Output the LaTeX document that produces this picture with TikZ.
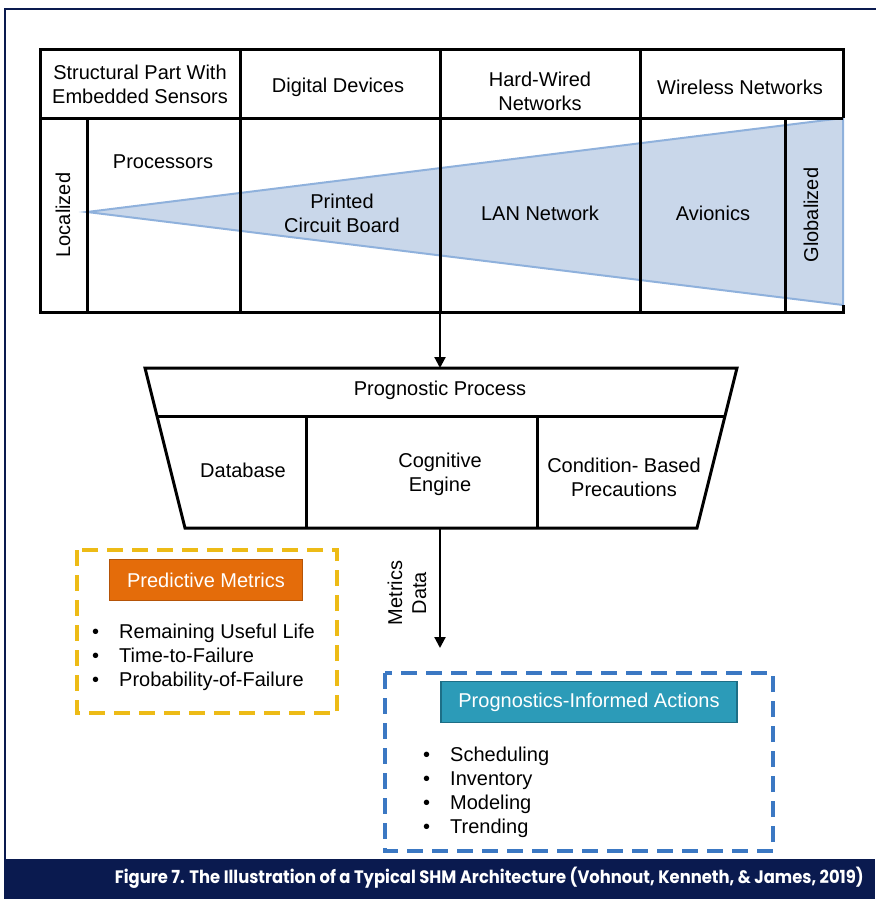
\documentclass[tikz,border=0pt]{standalone}
\usepackage{fontspec}
\setmainfont{Liberation Sans}
\newfontfamily\capfont{Poppins}
\usetikzlibrary{arrows.meta}
\definecolor{navy}{HTML}{0A1A4F}
\definecolor{wedge}{HTML}{C9D7EA}
\definecolor{wedgeline}{HTML}{8FB1DC}
\definecolor{metricsorange}{HTML}{E46C0A}
\definecolor{metricsedge}{HTML}{B55408}
\definecolor{metricsgold}{HTML}{EDBB16}
\definecolor{actionsteal}{HTML}{2C9BB8}
\definecolor{actionsedge}{HTML}{1D6E86}
\definecolor{actionsblue}{HTML}{3B78C3}
\begin{document}
\begin{tikzpicture}[x=1pt,y=-1pt,
  lbl/.style={font=\fontsize{20}{24}\selectfont, align=center, inner sep=0pt},
  grid/.style={line width=3pt},
  flow/.style={line width=2.2pt, -{Triangle[length=11pt,width=11pt]}},
  tagbox/.style={draw, line width=1.5pt, text=white, minimum height=41pt, inner sep=0pt,
    font=\fontsize{20}{24}\selectfont},
  dashbox/.style={line width=3.5pt, dash pattern=on 16pt off 9pt}]
  \useasboundingbox (0,0) rectangle (875,899);
  \draw [navy, line width=2pt] (5,860) -- (5,9) -- (877,9);
  \fill [navy] (4,859) rectangle (875,899);
  \fill [wedge] (87,212) -- (843,118) -- (843,305) -- cycle;
  \draw [wedgeline, line width=2pt] (843,305) -- (87,212) -- (843,118) -- (843,305);
  \draw [grid] (843,305) -- (843,312) -- (40,312) -- (40,50) -- (843,50) -- (843,118);
  \draw [grid] (40,118) -- (843,118);
  \foreach \x in {240,440,640} \draw [grid] (\x,50) -- (\x,312);
  \foreach \x in {87,785} \draw [grid] (\x,118) -- (\x,312);
  \node [lbl] (structural) at (140,84) {Structural Part With\\Embedded Sensors};
  \node [lbl] (digital) at (338,87) {Digital Devices};
  \node [lbl] (hardwired) at (540,91) {Hard-Wired\\Networks};
  \node [lbl] (wireless) at (740,87) {Wireless Networks};
  \node [lbl] (processors) at (163,162) {Processors};
  \node [lbl, rotate=90] (localized) at (63,215) {Localized};
  \node [lbl] (pcb) at (342,213) {Printed\\Circuit Board};
  \node [lbl] (lan) at (540,213) {LAN Network};
  \node [lbl] (avionics) at (713,213) {Avionics};
  \node [lbl, rotate=90] (globalized) at (811,215) {Globalized};
  \coordinate (tablebase) at (440,312);
  \coordinate (processtop) at (440,368);
  \draw [flow] (tablebase) -- (processtop);
  \draw [grid] (145,368) -- (737,368) -- (697,528) -- (185,528) -- cycle;
  \draw [grid] (157,416) -- (725,416);
  \draw [grid] (306,416) -- (306,528);
  \draw [grid] (537,416) -- (537,528);
  \node [lbl] (process) at (440,390) {Prognostic Process};
  \node [lbl] (database) at (243,470) {Database};
  \node [lbl] (cognitive) at (440,474) {Cognitive\\Engine};
  \node [lbl] (condition) at (624,477) {Condition- Based\\Precautions};
  \coordinate (processbase) at (440,528);
  \coordinate (metricsend) at (440,648);
  \draw [flow] (processbase) -- (metricsend);
  \node [lbl, rotate=90] (metricsdata) at (407,593) {Metrics\\Data};
  \draw [dashbox, metricsgold] (77,550) rectangle (337,713);
  \node [tagbox, fill=metricsorange, draw=metricsedge, minimum width=193pt] (predictive) at (206,580) {Predictive Metrics};
  \node [lbl, anchor=west, align=left] (metriclist) at (92,658) {\begin{tabular}{@{}l@{\hskip 20pt}l@{}}
    \textbullet & Remaining Useful Life\\
    \textbullet & Time-to-Failure\\
    \textbullet & Probability-of-Failure
  \end{tabular}};
  \draw [dashbox, actionsblue] (385,673) rectangle (773,851);
  \node [tagbox, fill=actionsteal, draw=actionsedge, minimum width=296pt] (informed) at (589,702) {Prognostics-Informed Actions};
  \node [lbl, anchor=west, align=left] (actionlist) at (423,793) {\begin{tabular}{@{}l@{\hskip 20pt}l@{}}
    \textbullet & Scheduling\\
    \textbullet & Inventory\\
    \textbullet & Modeling\\
    \textbullet & Trending
  \end{tabular}};
  \node [anchor=base east, text=white, inner sep=0pt, font=\capfont\bfseries\fontsize{18}{20}\selectfont] (caption) at (864,883) {\scalebox{0.91}[1]{Figure 7. The Illustration of a Typical SHM Architecture (Vohnout, Kenneth, \& James, 2019)}};
\end{tikzpicture}
\end{document}
